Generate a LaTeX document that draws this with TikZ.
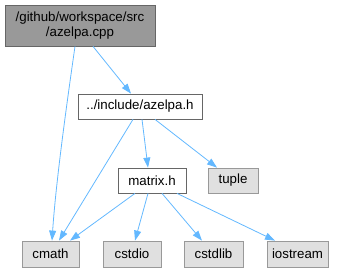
\documentclass[tikz,border=0pt]{standalone}
\usepackage{fontspec}
\setmainfont{Liberation Sans}
\usetikzlibrary{arrows.meta}
\definecolor{edgeblue}{HTML}{63B8FF}
\definecolor{darkborder}{HTML}{666666}
\definecolor{rootfill}{HTML}{999999}
\definecolor{leaffill}{HTML}{E0E0E0}
\definecolor{leafborder}{HTML}{999999}
\begin{document}
\begin{tikzpicture}[x=1pt,y=-1pt,
  every node/.style={font=\fontsize{13.3}{15}\selectfont, inner sep=0pt, align=center},
  rootbox/.style={draw=darkborder, fill=rootfill, line width=0.8pt},
  filebox/.style={draw=darkborder, fill=white, line width=0.8pt},
  leafbox/.style={draw=leafborder, fill=leaffill, line width=0.8pt},
  dep/.style={draw=edgeblue, line width=0.8pt, -{Triangle[length=10pt,width=7pt]}}]
\useasboundingbox (0,0) rectangle (344,272);

% files
\node[rootbox, minimum width=150pt, minimum height=41pt] (root) at (80,25.5) {/github/workspace/src\\/azelpa.cpp};
\node[filebox, minimum width=124pt, minimum height=25pt] (azelpa) at (140,106.5) {../include/azelpa.h};
\node[filebox, minimum width=68pt, minimum height=25pt] (matrix) at (152,180.5) {matrix.h};
\node[leafbox, minimum width=50pt, minimum height=25pt] (tuple) at (233,180.5) {tuple};
\node[leafbox, minimum width=57pt, minimum height=26pt] (cmath) at (50.5,254) {cmath};
\node[leafbox, minimum width=58pt, minimum height=26pt] (cstdio) at (132,254) {cstdio};
\node[leafbox, minimum width=59pt, minimum height=26pt] (cstdlib) at (213.5,254) {cstdlib};
\node[leafbox, minimum width=61pt, minimum height=26pt] (iostream) at (297.5,254) {iostream};

% include edges
\draw[dep] ([xshift=13pt]root.south) -- ([xshift=-9pt]azelpa.north);
\draw[dep] ([xshift=-5pt]root.south) .. controls (68,95) and (56,180) .. ([xshift=1.5pt]cmath.north);
\draw[dep] ([xshift=-7pt]azelpa.south) -- ([xshift=8.5pt]cmath.north);
\draw[dep] ([xshift=2pt]azelpa.south) -- ([xshift=-4pt]matrix.north);
\draw[dep] ([xshift=15pt]azelpa.south) -- ([xshift=-16pt]tuple.north);
\draw[dep] ([xshift=-17pt]matrix.south) -- ([xshift=19.5pt]cmath.north);
\draw[dep] ([xshift=-4pt]matrix.south) -- ([xshift=3pt]cstdio.north);
\draw[dep] ([xshift=10pt]matrix.south) -- ([xshift=-11.5pt]cstdlib.north);
\draw[dep] ([xshift=25pt]matrix.south) -- ([xshift=-22.5pt]iostream.north);
\end{tikzpicture}
\end{document}
